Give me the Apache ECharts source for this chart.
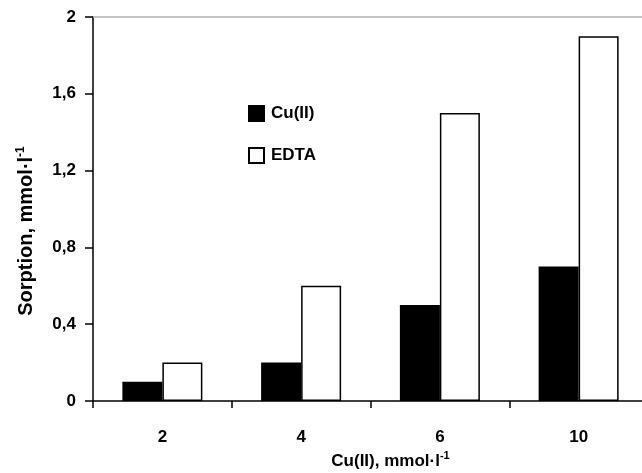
<!DOCTYPE html>
<html>
<head>
<meta charset="utf-8">
<script src="https://cdn.jsdelivr.net/npm/echarts@6/dist/echarts.min.js"></script>
<style>
html,body{margin:0;padding:0;background:#fff;}
#chart{width:642px;height:473px;}
</style>
</head>
<body>
<div id="chart"></div>
<script>
var categories = ['2', '4', '6', '10'];
var cuValues = [0.1, 0.2, 0.5, 0.7];
var edtaValues = [0.2, 0.6, 1.5, 1.9];
var yMin = 0, yMax = 2, yStep = 0.4;
var seriesNames = ['Cu(II)', 'EDTA'];

var FONT = '"Liberation Sans", Arial, sans-serif';
var chart = echarts.init(document.getElementById('chart'), null, {renderer: 'canvas'});
var supStyle = {fontSize: 11, fontWeight: 'bold', fontFamily: FONT, color: '#000', verticalAlign: 'top', padding: [0, 0, 9, 0]};
var baseStyle = {fontSize: 17, fontWeight: 'bold', fontFamily: FONT, color: '#000'};
var ySupStyle = {fontSize: 12, fontWeight: 'bold', fontFamily: FONT, color: '#000', verticalAlign: 'top', padding: [0, 0, 10, 0]};
var yBaseStyle = {fontSize: 20, fontWeight: 'bold', fontFamily: FONT, color: '#000'};

chart.setOption({
  animation: false,
  backgroundColor: '#fff',
  grid: {left: 93, top: 17, width: 555, height: 384, outerBoundsMode: 'none', containLabel: false},
  legend: {
    orient: 'vertical',
    left: 243,
    top: 100,
    itemWidth: 15,
    itemHeight: 15,
    itemGap: 25,
    icon: 'rect',
    data: seriesNames,
    textStyle: {fontSize: 17, fontWeight: 'bold', fontFamily: FONT, color: '#000', padding: [0, 0, 0, 2]}
  },
  xAxis: [{
    type: 'category',
    data: categories,
    position: 'bottom',
    axisLine: {lineStyle: {color: '#000', width: 1.5}},
    axisTick: {show: true, inside: false, length: 7, alignWithLabel: false, lineStyle: {color: '#000', width: 1.5}},
    axisLabel: {margin: 28, fontSize: 17, fontWeight: 'bold', fontFamily: FONT, color: '#000'},
    splitLine: {show: false},
    name: '{b|Cu(II), mmol·l}{s|-1}',
    nameLocation: 'middle',
    nameGap: 48,
    nameTextStyle: {padding: [0, 0, 0, 40], rich: {b: baseStyle, s: supStyle}}
  }, {
    type: 'category',
    data: categories,
    position: 'top',
    axisLine: {lineStyle: {color: '#b0b0b0', width: 1.5}},
    axisTick: {show: false},
    axisLabel: {show: false},
    splitLine: {show: false}
  }],
  yAxis: {
    type: 'value',
    min: yMin,
    max: yMax,
    interval: yStep,
    axisLine: {show: true, lineStyle: {color: '#000', width: 1.5}},
    axisTick: {show: true, inside: false, length: 8, lineStyle: {color: '#000', width: 1.5}},
    axisLabel: {
      margin: 17, fontSize: 17, fontWeight: 'bold', fontFamily: FONT, color: '#000',
      formatter: function (v) { return String(+v.toFixed(1)).replace('.', ','); }
    },
    splitLine: {show: false},
    name: '{b|Sorption, mmol·l}{s|-1}',
    nameLocation: 'middle',
    nameRotate: 90,
    nameGap: 56,
    nameTextStyle: {padding: [0, 44, 0, 0], rich: {b: yBaseStyle, s: ySupStyle}}
  },
  series: [{
    name: seriesNames[0],
    type: 'bar',
    data: cuValues,
    barWidth: 40,
    barGap: '0%',
    itemStyle: {color: '#000', borderColor: '#000', borderWidth: 1.5}
  }, {
    name: seriesNames[1],
    type: 'bar',
    data: edtaValues,
    barWidth: 40,
    barGap: '0%',
    itemStyle: {color: '#fff', borderColor: '#000', borderWidth: 1.5}
  }]
});
</script>
</body>
</html>
